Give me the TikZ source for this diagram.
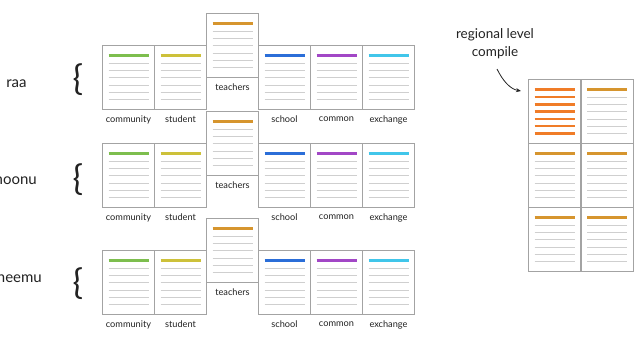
\documentclass[tikz,border=0pt]{standalone}
\usepackage{fontspec}
\setmainfont{Lato}
\usetikzlibrary{arrows.meta,calc}
\definecolor{cardgray}{HTML}{A3A3A3}
\definecolor{rulegray}{HTML}{CFCFCF}
\definecolor{txt}{HTML}{222222}
\definecolor{cgreen}{HTML}{7DBE4E}
\definecolor{cyellow}{HTML}{CDC13A}
\definecolor{cgold}{HTML}{D6952E}
\definecolor{cblue}{HTML}{2B6ED8}
\definecolor{cpurple}{HTML}{A247C6}
\definecolor{ccyan}{HTML}{41C6EA}
\definecolor{corange}{HTML}{F07C28}
\tikzset{
  card/.style={rectangle,draw=cardgray,line width=1pt,fill=white,minimum width=52pt,minimum height=64pt,inner sep=0pt,anchor=north west},
  hl/.style={line width=2.5pt,draw=#1},
  rulel/.style={line width=0.8pt,draw=rulegray},
  lab/.style={font=\fontsize{9.2}{10}\selectfont,text=txt,inner sep=0pt},
  rowlab/.style={font=\fontsize{15}{16}\selectfont,text=txt,inner sep=0pt},
  bracel/.style={font=\fontsize{35}{35}\selectfont,text=txt,inner sep=0pt},
  note/.style={font=\fontsize{13.5}{18}\selectfont,text=txt,align=center,inner sep=0pt}
}
\newcommand{\mkcard}[5]{%
  \node[card] (#1) at (#2,#3) {};
  \draw[hl=#4] ([xshift=6.5pt,yshift=-10.7pt]#1.north west) -- ([xshift=-6.5pt,yshift=-10.7pt]#1.north east);
  \foreach \k in {1,...,6} {\draw[rulel] ([xshift=6.5pt,yshift={-10.7pt-7.3pt*\k}]#1.north west) -- ([xshift=-6.5pt,yshift={-10.7pt-7.3pt*\k}]#1.north east);}
  \node[lab] (#1l) at ([yshift=-9.5pt]#1.south) {#5};
}
\newcommand{\mkrow}[3]{% prefix, card top y, teachers top y
  \mkcard{#1a}{102}{#2}{cgreen}{community}
  \mkcard{#1b}{154}{#2}{cyellow}{student}
  \mkcard{#1d}{258}{#2}{cblue}{school}
  \mkcard{#1e}{310}{#2}{cpurple}{common}
  \mkcard{#1f}{362}{#2}{ccyan}{exchange}
  \mkcard{#1c}{206}{#3}{cgold}{teachers}
}
\begin{document}
\begin{tikzpicture}[x=1pt,y={(0pt,-1pt)}]
\useasboundingbox[fill=white] (0,0) rectangle (640,360);
\mkrow{r}{45}{13}
\mkrow{s}{143}{111}
\mkrow{t}{250}{218}
% row labels and braces
\node[rowlab,anchor=base] (l1) at (16.5,87) {raa};
\node[rowlab,anchor=base east] (l2) at (37,184) {noonu};
\node[rowlab,anchor=base east] (l3) at (42,282) {neemu};
\node[bracel] (b1) at (78,80) {\{};
\node[bracel] (b2) at (78,180) {\{};
\node[bracel] (b3) at (78,284) {\{};
% regional compile grid
\node[card] (g1) at (528,79) {};
\foreach \k in {0,...,6} {\draw[hl=corange] ([xshift=6.5pt,yshift={-10.7pt-7.3pt*\k}]g1.north west) -- ([xshift=-6.5pt,yshift={-10.7pt-7.3pt*\k}]g1.north east);}
\mkcard{g2}{580.5}{79}{cgold}{}
\mkcard{g3}{528}{143}{cgold}{}
\mkcard{g4}{580.5}{143}{cgold}{}
\mkcard{g5}{528}{207}{cgold}{}
\mkcard{g6}{580.5}{207}{cgold}{}
\node[note] (note) at (495,44) {regional level\\compile};
\coordinate (as) at (497,69);
\coordinate (ae) at (521,91);
\draw[line width=0.8pt,draw=txt,-{Stealth[length=5pt,width=4pt]}] (as) .. controls (503,81) and (510,89) .. (ae);
\end{tikzpicture}
\end{document}
